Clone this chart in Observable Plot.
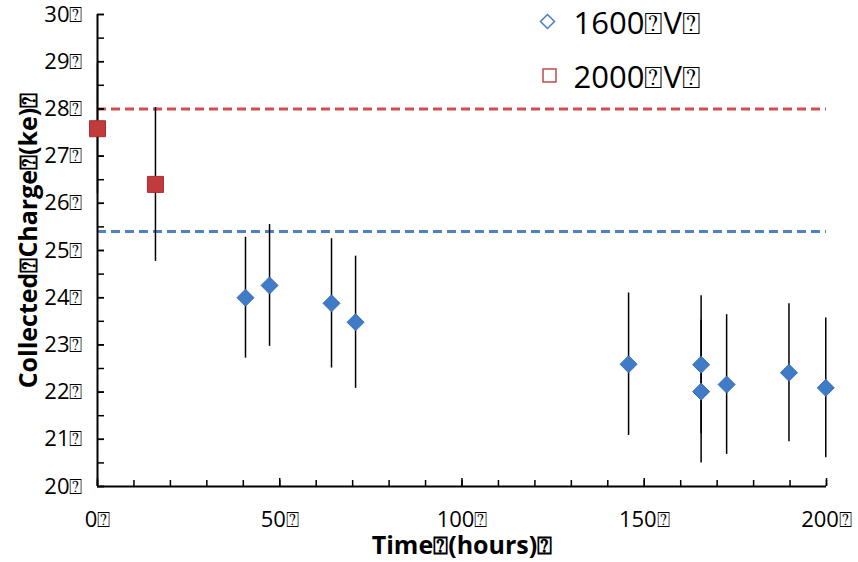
<!DOCTYPE html>
<html><head><meta charset="utf-8">
<script src="https://cdn.jsdelivr.net/npm/d3@7"></script>
<script src="https://cdn.jsdelivr.net/npm/@observablehq/plot@0.6"></script>
<style>body{margin:0;background:#fff} svg{display:block}</style>
</head><body><div id="chart"></div>
<script>
const T = "\u2370";
// 1600 V series
const hours1600 = [40.6, 47.2, 64.2, 70.8, 145.7, 165.6, 165.6, 172.6, 189.7, 199.8];
const charge1600 = [24.00, 24.26, 23.88, 23.48, 22.59, 22.58, 22.01, 22.16, 22.41, 22.09];
const err1600 = [1.28, 1.29, 1.37, 1.40, 1.51, 1.46, 1.51, 1.48, 1.46, 1.48];
// 2000 V series
const hours2000 = [0, 15.9];
const charge2000 = [27.58, 26.40];
const err2000 = [1.38, 1.63];
// reference levels
const ref1600 = 25.4;
const ref2000 = 28.0;
const seriesLabels = ["1600" + T + "V" + T, "2000" + T + "V" + T];
const xLabelTicks = [0, 50, 100, 150, 200];
const xMinorTicks = d3.range(0, 201, 10);
const yLabelTicks = d3.range(20, 31, 1);
const yMinorTicks = d3.range(20, 30.01, 0.5);
const xTitle = "Time" + T + "(hours)" + T;
const yTitle = "Collected" + T + "Charge" + T + "(ke)" + T;

const blue = "#3f7bc6", red = "#c23b3b";
const s1600 = hours1600.map((h, i) => ({h, c: charge1600[i], e: err1600[i]}));
const s2000 = hours2000.map((h, i) => ({h, c: charge2000[i], e: err2000[i]}));

const diamond = {draw(ctx, size) { const r = Math.sqrt(size / Math.PI); ctx.moveTo(0, -r); ctx.lineTo(r, 0); ctx.lineTo(0, r); ctx.lineTo(-r, 0); ctx.closePath(); }};
const square = {draw(ctx, size) { const r = Math.sqrt(size / Math.PI); ctx.rect(-r, -r, 2 * r, 2 * r); }};

const chart = Plot.plot({
  width: 858, height: 562,
  marginLeft: 97, marginRight: 32, marginTop: 14, marginBottom: 76,
  style: {fontFamily: "'Open Sans', sans-serif", color: "#000", background: "#fff"},
  x: {domain: [0, 200], axis: null},
  y: {domain: [20, 30], axis: null},
  marks: [
    Plot.ruleY([ref2000], {stroke: "#d24d4d", strokeWidth: 3, strokeDasharray: "9,5"}),
    Plot.ruleY([ref1600], {stroke: "#4f81c7", strokeWidth: 3, strokeDasharray: "9,5"}),
    Plot.ruleX(s2000, {x: "h", y1: d => d.c - d.e, y2: d => d.c + d.e, stroke: "#000", strokeWidth: 1.5}),
    Plot.ruleX(s1600, {x: "h", y1: d => d.c - d.e, y2: d => d.c + d.e, stroke: "#000", strokeWidth: 1.5}),
    Plot.axisY(yMinorTicks, {anchor: "left", label: null, tickSize: -7, tickFormat: () => "", strokeWidth: 1.5}),
    Plot.axisY(yLabelTicks, {anchor: "left", label: null, tickSize: -7, tickPadding: 22, tickFormat: d => d + T, fontSize: 22, strokeWidth: 1.5}),
    Plot.axisX(xMinorTicks, {anchor: "bottom", label: null, tickSize: -6, tickFormat: () => "", strokeWidth: 1.5}),
    Plot.axisX(xLabelTicks, {anchor: "bottom", label: null, tickSize: -8, tickPadding: 33, tickFormat: d => d + T, fontSize: 22, strokeWidth: 1.5}),
    Plot.ruleX([0], {stroke: "#000", strokeWidth: 2}),
    Plot.ruleY([20], {stroke: "#000", strokeWidth: 2}),
    Plot.dot(s2000, {x: "h", y: "c", symbol: square, r: 8, fill: red, stroke: "#a83030", strokeWidth: 1}),
    Plot.dot(s1600, {x: "h", y: "c", symbol: diamond, r: 8.5, fill: blue, stroke: "#3a6fb5", strokeWidth: 1}),
    // legend
    Plot.dot([0], {frameAnchor: "top-left", dx: 450, dy: 7, symbol: diamond, r: 7, fill: "#fff", stroke: "#4a7ec6", strokeWidth: 1.5}),
    Plot.text([seriesLabels[0]], {frameAnchor: "top-left", dx: 476, dy: 10, text: d => d, textAnchor: "start", lineAnchor: "middle", fontSize: 31}),
    Plot.dot([0], {frameAnchor: "top-left", dx: 452, dy: 61, symbol: square, r: 6.5, fill: "#fff", stroke: "#c24a4a", strokeWidth: 1.5}),
    Plot.text([seriesLabels[1]], {frameAnchor: "top-left", dx: 476, dy: 64, text: d => d, textAnchor: "start", lineAnchor: "middle", fontSize: 31}),
    // axis titles
    Plot.text([xTitle], {frameAnchor: "bottom", dy: 59, text: d => d, lineAnchor: "middle", textAnchor: "middle", fontSize: 25, fontWeight: "bold"}),
    Plot.text([yTitle], {frameAnchor: "left", dx: -69, dy: -10, rotate: -90, text: d => d, textAnchor: "middle", lineAnchor: "middle", fontSize: 25, fontWeight: "bold"})
  ]
});
document.getElementById("chart").appendChild(chart);
</script>
</body></html>
